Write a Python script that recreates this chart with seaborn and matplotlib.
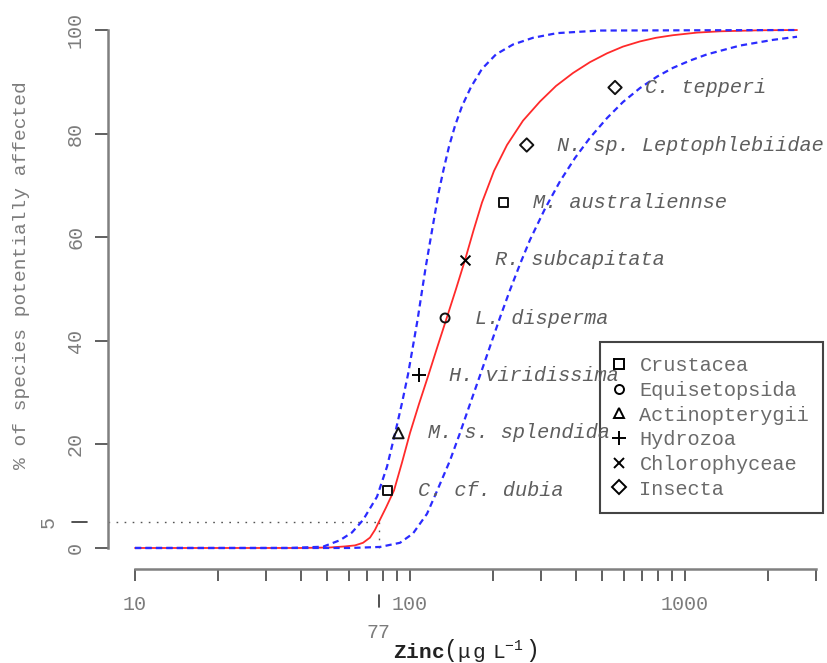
import matplotlib
matplotlib.use("Agg")
import numpy as np
import pandas as pd
import matplotlib.pyplot as plt
import matplotlib.transforms as mtransforms
from matplotlib.lines import Line2D
from matplotlib.ticker import FixedLocator, NullFormatter
import seaborn as sns

# ---------------- data ----------------
species = ["C. cf. dubia", "M. s. splendida", "H. viridissima", "L. disperma",
           "R. subcapitata", "M. australiennse", "N. sp. Leptophlebiidae", "C. tepperi"]
taxon = ["Crustacea", "Actinopterygii", "Hydrozoa", "Equisetopsida",
         "Chlorophyceae", "Crustacea", "Insecta", "Insecta"]
zinc_conc = [83.0, 90.7, 108.1, 134.1, 158.5, 218.5, 265.7, 556.6]
pct_affected = [11.1, 22.2, 33.3, 44.4, 55.6, 66.7, 77.8, 88.9]

legend_taxa = ["Crustacea", "Equisetopsida", "Actinopterygii", "Hydrozoa",
               "Chlorophyceae", "Insecta"]
legend_markers = ["s", "o", "^", "+", "x", "D"]
marker_sizes = [46, 42, 58, 110, 50, 46]

# fitted species sensitivity distribution (log10 of zinc, %)
fit_log10_zinc = [1.0, 1.6, 1.7091, 1.7636, 1.8, 1.8291, 1.8545, 1.8727, 1.8865,
                  1.9127, 1.9418, 1.9709, 2.0, 2.0327, 2.0665, 2.1, 2.1335, 2.1673,
                  2.2, 2.2309, 2.2618, 2.3055, 2.3527, 2.4109, 2.4727, 2.5309,
                  2.5927, 2.6545, 2.7164, 2.7745, 2.8364, 2.8945, 2.9564, 3.0436,
                  3.1273, 3.2727, 3.4073]
fit_pct = [0, 0, 0.1, 0.3, 0.5, 1.0, 2.0, 3.5, 5.0,
           7.8, 11.1, 16.5, 22.2, 27.8, 33.3, 38.9, 44.4, 50.0,
           55.6, 61.3, 66.7, 72.8, 77.8, 82.5, 86.2, 89.2,
           91.7, 93.8, 95.5, 96.8, 97.8, 98.5, 99.0, 99.5,
           99.75, 99.95, 100]

# confidence band, left (upper) dashed curve
lo_log10_zinc = [1.0, 1.5636, 1.6836, 1.7455, 1.7891, 1.8291, 1.88, 1.9164, 1.9455,
                 1.9709, 1.9927, 2.0109, 2.0273, 2.0418, 2.0564, 2.0709, 2.0873,
                 2.1036, 2.1218, 2.1418, 2.1636, 2.1891, 2.2218, 2.2618, 2.3127,
                 2.3745, 2.4473, 2.5345, 2.6909, 3.4073]
lo_pct = [0, 0, 0.25, 1.5, 3.0, 5.4, 9.9, 15.7, 22.1,
          28.0, 33.5, 39.0, 44.0, 49.0, 54.0, 58.5, 63.5,
          68.5, 73.0, 77.5, 81.5, 85.3, 89.0, 92.5, 95.3,
          97.2, 98.5, 99.4, 99.9, 100]

# confidence band, right (lower) dashed curve
hi_log10_zinc = [1.0, 1.7818, 1.8909, 1.9636, 2.0109, 2.0618, 2.0982, 2.1455, 2.1818,
                 2.2182, 2.2545, 2.2909, 2.3273, 2.3636, 2.4, 2.4364, 2.4909, 2.5455,
                 2.6, 2.6545, 2.7164, 2.7745, 2.8364, 2.8982, 2.9564, 3.0182, 3.08,
                 3.2, 3.32, 3.4073]
hi_pct = [0, 0, 0.2, 1.0, 2.8, 6.6, 11.0, 16.9, 22.2,
          27.8, 33.3, 38.9, 44.5, 49.8, 54.8, 59.5, 65.5, 70.8,
          75.3, 79.2, 83.0, 86.1, 88.8, 91.0, 92.7, 94.1, 95.3,
          97.0, 98.1, 98.7]

hc5_conc = 77
hc5_pct = 5

x_major = [10, 100, 1000]
x_major_labels = ["10", "100", "1000"]
x_minor = [20, 30, 40, 50, 60, 70, 80, 90, 200, 300, 400, 500, 600, 700, 800, 900,
           2000, 3000]
y_ticks = [0, 20, 40, 60, 80, 100]

# ---------------- style ----------------
sns.set_style("ticks")
plt.rcParams["font.family"] = ["Liberation Mono", "DejaVu Sans Mono"]
plt.rcParams["mathtext.fontset"] = "custom"
plt.rcParams["mathtext.rm"] = "Liberation Mono"
plt.rcParams["mathtext.bf"] = "Liberation Mono:bold"
plt.rcParams["mathtext.it"] = "Liberation Mono:italic"

FS = 14.4
GRAY_TXT = "#7c7c7c"
W, H = 827, 663
fig = plt.figure(figsize=(W / 100, H / 100), dpi=100)
ax = fig.add_axes([108.5 / W, 1 - 568.7 / H, (823.4 - 108.5) / W, (568.7 - 9.3) / H])
ax.set_xscale("log")
ax.set_xlim(8.01, 3186)
ax.set_ylim(-4, 104)

# curves
sns.lineplot(x=np.power(10.0, fit_log10_zinc), y=fit_pct, color="#ff2a2a", lw=1.3,
             ax=ax, estimator=None, sort=False, zorder=2)
for lx, cy in [(lo_log10_zinc, lo_pct), (hi_log10_zinc, hi_pct)]:
    sns.lineplot(x=np.power(10.0, lx), y=cy, color="#2b2bff", lw=1.6,
                 linestyle=(0, (2.8, 1.9)), ax=ax, estimator=None, sort=False,
                 zorder=2.5)

# HC5 reference lines
ax.plot([8.01, hc5_conc], [hc5_pct, hc5_pct], color="#555555", lw=1.0,
        ls=(0, (1.2, 4.6)), zorder=1.5)
ax.plot([hc5_conc, hc5_conc], [hc5_pct, 0], color="#555555", lw=1.0,
        ls=(0, (1.2, 4.6)), zorder=1.5)

# points
df = pd.DataFrame({"species": species, "taxon": taxon,
                   "zinc": zinc_conc, "pct": pct_affected})
mk = dict(zip(legend_taxa, legend_markers))
ms = dict(zip(legend_taxa, marker_sizes))
for t, sub in df.groupby("taxon"):
    m = mk[t]
    if m in ("+", "x"):
        sns.scatterplot(data=sub, x="zinc", y="pct", marker=m, color="black",
                        s=ms[t], linewidth=1.4, ax=ax, zorder=4, legend=False)
    else:
        sns.scatterplot(data=sub, x="zinc", y="pct", marker=m, facecolor="none",
                        edgecolor="#111111", s=ms[t], linewidth=1.4, ax=ax,
                        zorder=4, legend=False)

for _, r in df.iterrows():
    ax.annotate(r["species"], (r["zinc"], r["pct"]), xytext=(21.5, 0),
                textcoords="offset points", ha="left", va="center",
                fontstyle="italic", color="#5e5e5e", fontsize=14.6, zorder=6)

# axes cosmetics
sns.despine(ax=ax, top=True, right=True)
ax.spines["bottom"].set_bounds(10, 3000)
ax.spines["left"].set_bounds(0, 100)
for s in ("bottom", "left"):
    ax.spines[s].set_color("#808080")
    ax.spines[s].set_linewidth(1.8)

ax.xaxis.set_major_locator(FixedLocator(x_major))
ax.set_xticklabels(x_major_labels)
ax.xaxis.set_minor_locator(FixedLocator(x_minor))
ax.xaxis.set_minor_formatter(NullFormatter())
ax.tick_params(axis="x", which="both", bottom=True, length=8.6, width=1.2,
               color="#444444", labelsize=FS, labelcolor=GRAY_TXT, pad=10,
               direction="out")
ax.set_yticks(y_ticks)
ax.set_yticklabels([str(v) for v in y_ticks])
ax.tick_params(axis="y", left=True, length=9.4, width=1.2, color="#444444",
               labelsize=FS, labelcolor=GRAY_TXT, pad=7.5, labelrotation=90,
               direction="out")
for lab in ax.get_yticklabels():
    lab.set_va("center")
ax.set_xlabel("")
ax.set_ylabel("")

# extra tick at 5 % (left) and at HC5 = 77 (bottom)
tr_y = mtransforms.blended_transform_factory(fig.transFigure, ax.transData)
ax.plot([72 / W, 87 / W], [hc5_pct, hc5_pct], transform=tr_y, color="#333333",
        lw=1.2, clip_on=False)
ax.text(48.5 / W, hc5_pct, str(hc5_pct), transform=tr_y, rotation=90, ha="center",
        va="center", fontsize=FS, color=GRAY_TXT)
tr_x = mtransforms.blended_transform_factory(ax.transData, fig.transFigure)
ax.plot([hc5_conc, hc5_conc], [1 - 595 / H, 1 - 607 / H], transform=tr_x,
        color="#333333", lw=1.2, clip_on=False)
ax.text(hc5_conc, 1 - 632 / H, str(hc5_conc), transform=tr_x, ha="center",
        va="center", fontsize=FS, color=GRAY_TXT)

# axis titles
fig.text(22 / W, 1 - 275 / H, "% of species potentially affected", rotation=90,
         ha="center", va="center", fontsize=14, color=GRAY_TXT)
fig.text(465 / W, 1 - 650 / H,
         r"$\mathbf{Zinc}\left(\mathrm{μ\,g\;\;L}^{-1}\,\right)$",
         ha="center", va="center", fontsize=15.2, color="#222222")

# legend
handles = [Line2D([], [], ls="none", marker=m, color="black", mfc="none",
                  mec="black", ms=np.sqrt(s), mew=1.4)
           for m, s in zip(legend_markers, marker_sizes)]
leg = ax.legend(handles, legend_taxa, loc="upper right",
                bbox_to_anchor=(823.4 / W, 1 - 342 / H),
                bbox_transform=fig.transFigure, borderaxespad=0, frameon=True,
                fancybox=False, edgecolor="#444444", framealpha=1, fontsize=14.6,
                labelcolor="#6a6a6a", handlelength=0.45, handletextpad=0.8,
                borderpad=0.7, labelspacing=0.28)
leg.get_frame().set_linewidth(1.5)
leg.set_zorder(4.5)

fig.savefig("out.png", dpi=100)
